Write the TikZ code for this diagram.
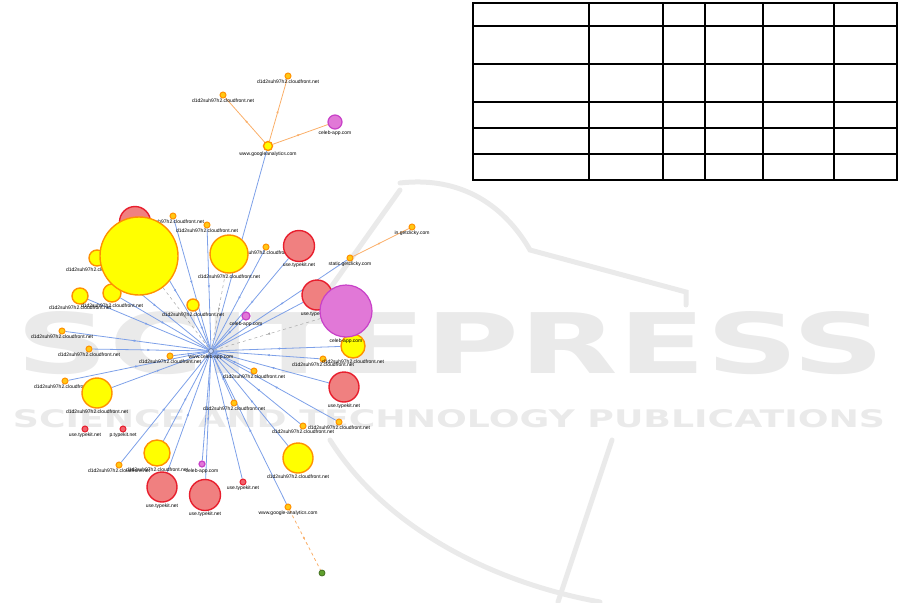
\documentclass[tikz,border=0pt]{standalone}
\usepackage{fontspec}
\setmainfont{Liberation Sans}
\newfontfamily\wmfont{DejaVu Sans}
\usetikzlibrary{arrows.meta, decorations.markings}
\definecolor{edgeblue}{RGB}{125,160,232}
\definecolor{edgeorange}{RGB}{250,175,105}
\definecolor{ringorange}{RGB}{255,145,0}
\definecolor{dotfill}{RGB}{255,200,20}
\definecolor{nodeyellow}{RGB}{255,255,0}
\definecolor{ringred}{RGB}{232,30,45}
\definecolor{nodepink}{RGB}{240,128,128}
\definecolor{ringpurple}{RGB}{200,65,200}
\definecolor{nodepurple}{RGB}{225,120,215}
\definecolor{nodegreen}{RGB}{95,160,45}
\definecolor{wmgray}{RGB}{234,234,234}
\pgfdeclarelayer{back}
\pgfdeclarelayer{edges}
\pgfsetlayers{back,edges,main}
\tikzset{
  yelnode/.style={circle, draw=ringorange, fill=nodeyellow, line width=1.4pt, inner sep=0pt},
  rednode/.style={circle, draw=ringred, fill=nodepink, line width=1.4pt, inner sep=0pt},
  purnode/.style={circle, draw=ringpurple, fill=nodepurple, line width=1.2pt, inner sep=0pt},
  dotnode/.style={circle, draw=ringorange, fill=dotfill, line width=1pt, inner sep=0pt, minimum size=6pt},
  smallred/.style={circle, draw=ringred, fill=ringred!70, line width=1pt, inner sep=0pt, minimum size=6pt},
  greennode/.style={circle, draw=nodegreen!70!black, fill=nodegreen, line width=0.8pt, inner sep=0pt, minimum size=6pt},
  hubnode/.style={circle, draw=edgeblue!70!black, fill=edgeblue!40, line width=0.8pt, inner sep=0pt, minimum size=5pt},
  lbl/.style={font=\fontsize{5}{5.5}\selectfont, inner sep=0.6pt},
  midarrow/.style={postaction={decorate}, decoration={markings, mark=at position 0.5 with {\arrow{Latex[length=3pt,width=2.4pt]}}}},
  bedge/.style={draw=edgeblue, line width=0.8pt, midarrow},
  oedge/.style={draw=edgeorange, line width=0.8pt, midarrow},
  gedge/.style={draw=gray!70, dashed, line width=0.5pt, midarrow},
  wmline/.style={draw=wmgray, line width=5pt, line cap=round},
}
\begin{document}
\begin{tikzpicture}[x=1pt, y=-1pt]
\useasboundingbox (0,0) rectangle (901,602);

%Watermark
\begin{pgfonlayer}{back}
  \draw[wmline] (400,183) .. controls (470,175) and (510,215) .. (530,250) -- (686,292) -- (686,305);
  \draw[wmline] (400,190) -- (292,342);
  \draw[wmline] (330,440) .. controls (380,520) and (480,580) .. (600,602);
  \draw[wmline] (612,440) -- (558,602);
  \node[inner sep=0pt, text=wmgray] (wmtitle) at (451,343) {\resizebox{868pt}{62pt}{\wmfont\bfseries SCITEPRESS}};
  \node[inner sep=0pt, text=wmgray] (wmsub) at (449,419) {\resizebox{872pt}{18pt}{\wmfont\bfseries SCIENCE AND TECHNOLOGY PUBLICATIONS}};
\end{pgfonlayer}

%Table
\foreach \ty in {3,26,64,102,128,154,180}
  \draw[line width=1.2pt] (472.4,\ty) -- (897.6,\ty);
\foreach \tx in {473,589,663,705,763,834,897}
  \draw[line width=1.2pt] (\tx,3) -- (\tx,180);

%Nodes
\node[hubnode, label={[lbl]below:www.celeb-app.com}] (hub) at (211,351) {};
\node[yelnode, minimum size=9pt, label={[lbl]below:www.googleanalytics.com}] (gatop) at (268,146) {};
\node[dotnode, label={[lbl]below:d1d2suh97h2.cloudfront.net}] (cfa) at (223,95) {};
\node[dotnode, label={[lbl]below:d1d2suh97h2.cloudfront.net}] (cfb) at (288,76) {};
\node[purnode, minimum size=14pt, label={[lbl]below:celeb-app.com}] (celebtop) at (335,122) {};
\node[dotnode, label={[lbl]below:static.getclicky.com}] (gcs) at (350,258) {};
\node[dotnode, label={[lbl]below:in.getclicky.com}] (gci) at (412,227) {};
\node[dotnode, label={[lbl]below:www.google-analytics.com}] (gabot) at (288,507) {};
\node[greennode] (green) at (322,573) {};

\node[dotnode, label={[lbl]below:d1d2suh97h2.cloudfront.net}] (cf1) at (173,216) {};
\node[dotnode, label={[lbl]below:d1d2suh97h2.cloudfront.net}] (cf2) at (207,225) {};
\node[dotnode, label={[lbl]below:d1d2suh97h2.cloudfront.net}] (cf3) at (266,247) {};
\node[dotnode, label={[lbl]below:d1d2suh97h2.cloudfront.net}] (cf4) at (62,331) {};
\node[dotnode, label={[lbl]below:d1d2suh97h2.cloudfront.net}] (cf5) at (89,349) {};
\node[dotnode, label={[lbl]below:d1d2suh97h2.cloudfront.net}] (cf6) at (170,356) {};
\node[dotnode, label={[lbl]below:d1d2suh97h2.cloudfront.net}] (cf7) at (65,381) {};
\node[dotnode, label={[lbl]below:d1d2suh97h2.cloudfront.net}] (cf8) at (119,465) {};
\node[dotnode, label={[lbl]below:d1d2suh97h2.cloudfront.net}] (cf9) at (323,359) {};
\node[dotnode, label={[lbl]below:d1d2suh97h2.cloudfront.net}] (cf10) at (254,371) {};
\node[dotnode, label={[lbl]below:d1d2suh97h2.cloudfront.net}] (cf11) at (234,403) {};
\node[dotnode, label={[lbl]below:d1d2suh97h2.cloudfront.net}] (cf12) at (303,426) {};
\node[dotnode, label={[lbl]below:d1d2suh97h2.cloudfront.net}] (cf13) at (339,422) {};

\node[smallred, label={[lbl]below:use.typekit.net}] (tk1) at (85,429) {};
\node[smallred, label={[lbl]below:p.typekit.net}] (tk2) at (123,429) {};
\node[smallred, label={[lbl]below:use.typekit.net}] (tk3) at (243,482) {};
\node[purnode, minimum size=8pt, label={[lbl]below:celeb-app.com}] (cel1) at (246,316) {};
\node[purnode, minimum size=6pt, label={[lbl]below:celeb-app.com}] (cel2) at (202,464) {};

\node[yelnode, minimum size=16pt, label={[lbl]below:d1d2suh97h2.cloudfront.net}] (yl1) at (97,258) {};
\node[yelnode, minimum size=16pt, label={[lbl]below:d1d2suh97h2.cloudfront.net}] (yl2) at (80,296) {};
\node[yelnode, minimum size=18pt, label={[lbl]below:d1d2suh97h2.cloudfront.net}] (yl3) at (112,293) {};
\node[yelnode, minimum size=12pt, label={[lbl]below:d1d2suh97h2.cloudfront.net}] (yl4) at (193,305) {};
\node[yelnode, minimum size=38pt, label={[lbl]below:d1d2suh97h2.cloudfront.net}] (yl5) at (229,254) {};
\node[yelnode, minimum size=24pt, label={[lbl]below:d1d2suh97h2.cloudfront.net}] (yl6) at (353,346) {};
\node[yelnode, minimum size=30pt, label={[lbl]below:d1d2suh97h2.cloudfront.net}] (yl7) at (97,393) {};
\node[yelnode, minimum size=26pt, label={[lbl]below:d1d2suh97h2.cloudfront.net}] (yl8) at (157,453) {};
\node[yelnode, minimum size=30pt, label={[lbl]below:d1d2suh97h2.cloudfront.net}] (yl9) at (298,458) {};

\node[rednode, minimum size=31pt, label={[lbl]below:use.typekit.net}] (rd1) at (299,246) {};
\node[rednode, minimum size=30pt, label={[lbl]below:use.typekit.net}] (rd2) at (317,295) {};
\node[rednode, minimum size=30pt, label={[lbl]below:use.typekit.net}] (rd3) at (162,487) {};
\node[rednode, minimum size=31pt, label={[lbl]below:use.typekit.net}] (rd4) at (205,495) {};
\node[rednode, minimum size=30pt, label={[lbl]below:use.typekit.net}] (rd5) at (344,387) {};
\node[rednode, minimum size=31pt] (rd6) at (135,222) {};

\node[purnode, minimum size=52pt, label={[lbl]below:celeb-app.com}] (celbig) at (346,311) {};
\node[yelnode, minimum size=78pt] (ylbig) at (139,256) {};

%Lines
\begin{pgfonlayer}{edges}
  \foreach \src in {gatop,cf1,cf2,cf3,cf4,cf5,cf6,cf7,cf8,cf9,cf10,cf11,cf12,cf13,gcs,gabot,tk3,cel1,cel2,yl1,yl2,yl3,yl4,yl6,yl7,yl8,yl9,rd1,rd2,rd3,rd4,rd5,rd6}
    \draw[bedge] (\src) -- (hub);
  \draw[gedge] (ylbig) -- (hub);
  \draw[gedge] (yl5) -- (hub);
  \draw[gedge] (celbig) -- (hub);
  \draw[oedge] (gatop) -- (cfa);
  \draw[oedge] (gatop) -- (cfb);
  \draw[oedge] (gatop) -- (celebtop);
  \draw[oedge] (gcs) -- (gci);
  \draw[oedge, dashed] (gabot) -- (green);
\end{pgfonlayer}

\end{tikzpicture}
\end{document}
